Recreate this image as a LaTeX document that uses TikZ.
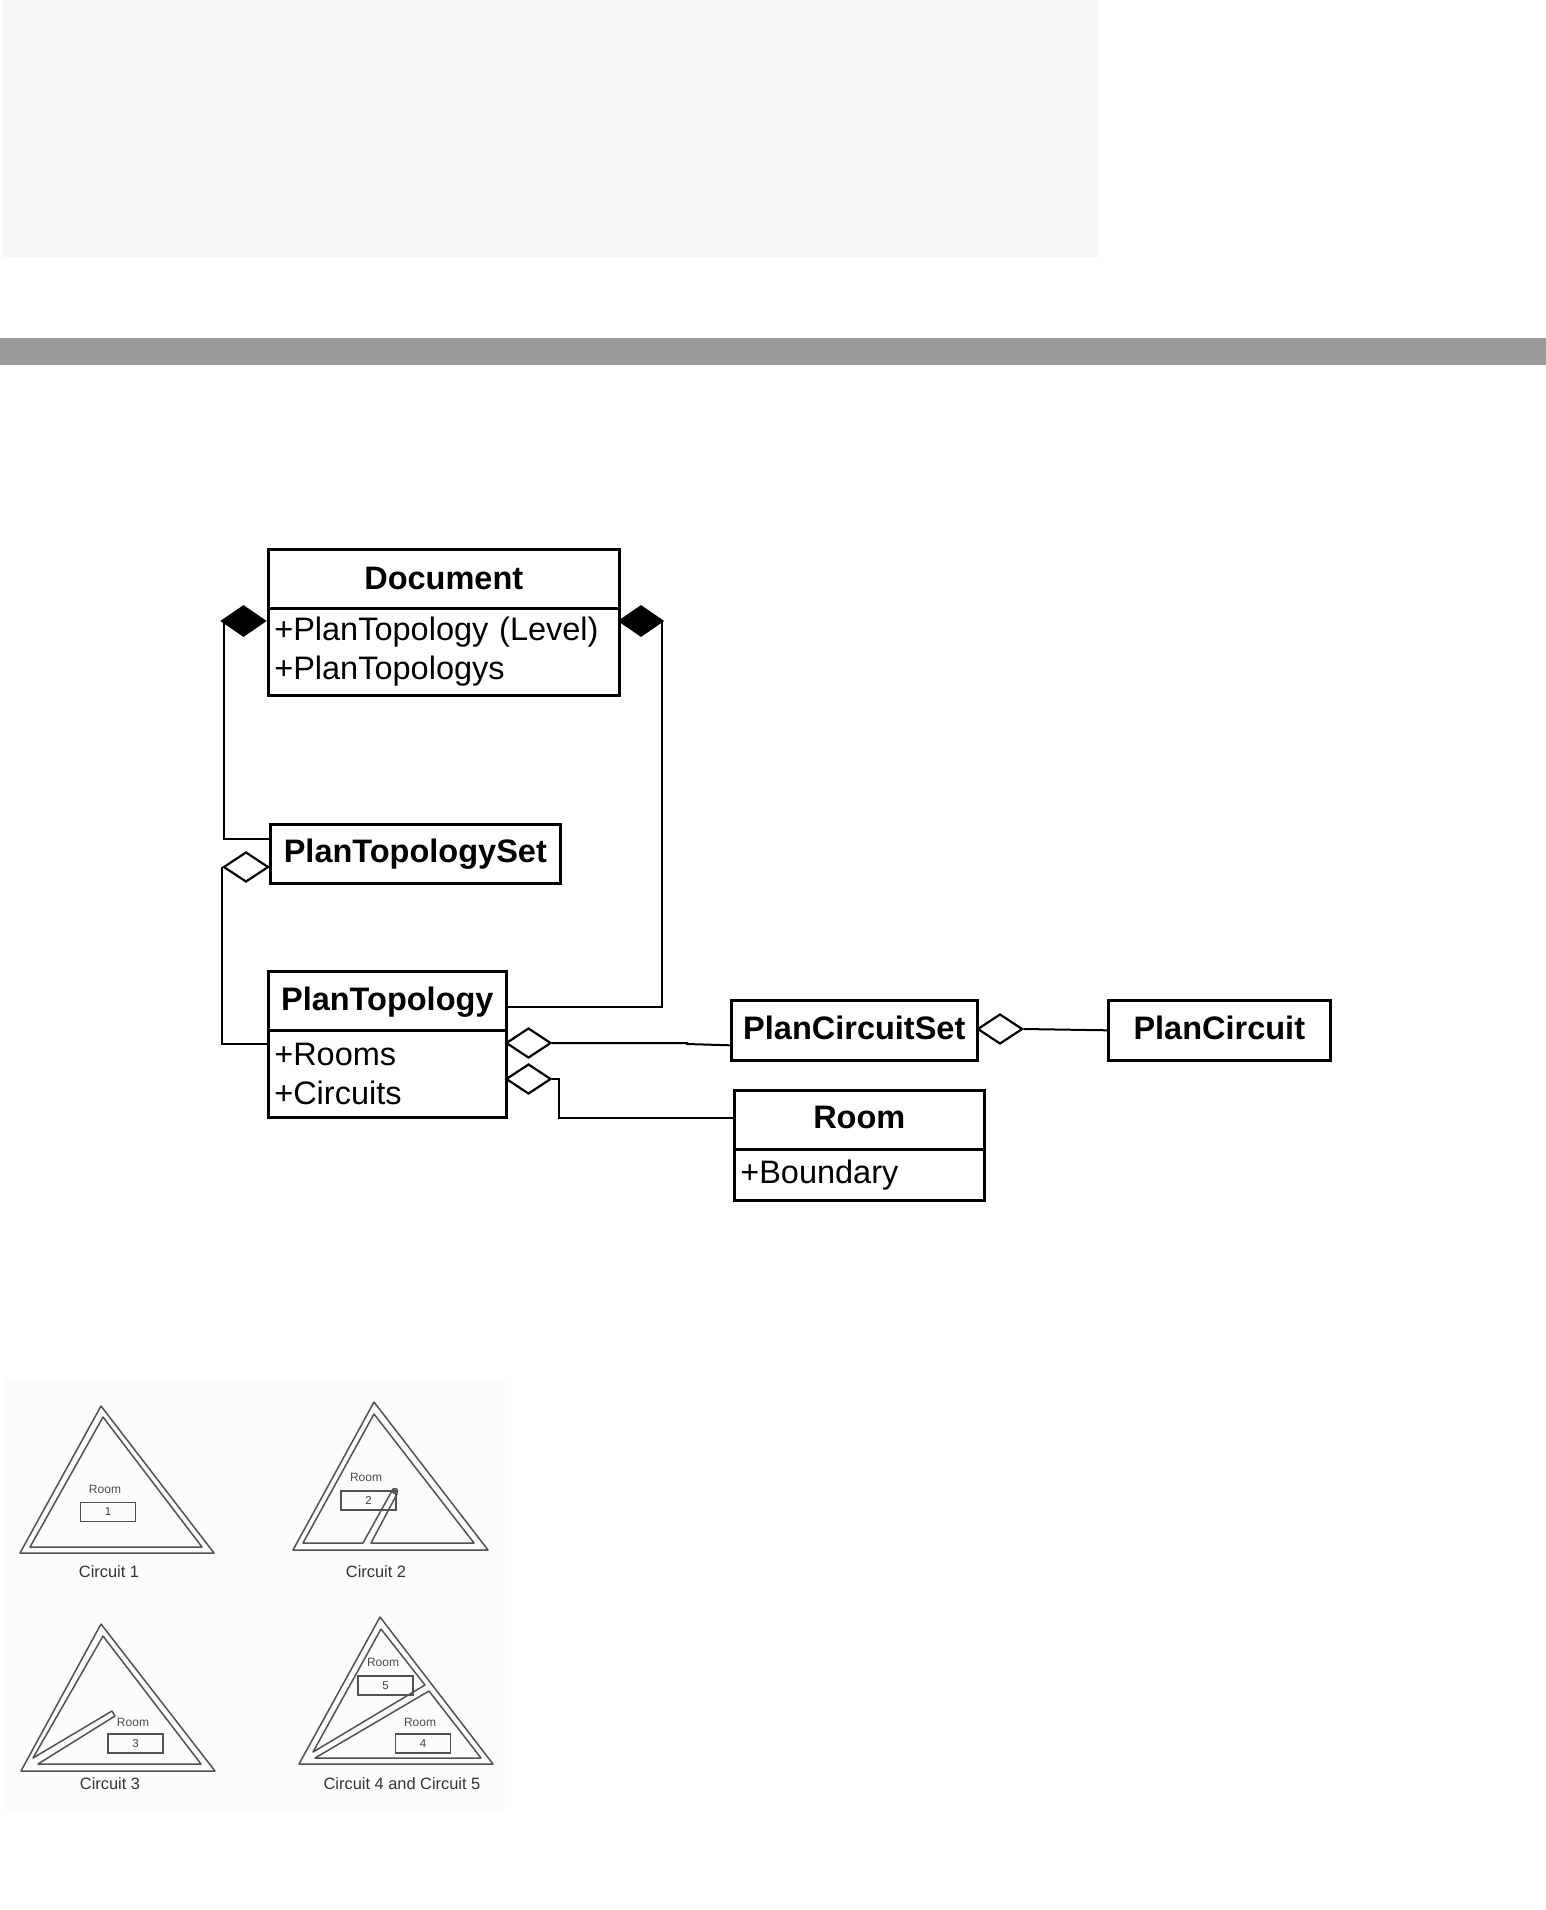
\documentclass[tikz,border=0pt]{standalone}
\usepackage{fontspec}
\setmainfont{Liberation Sans}
\usetikzlibrary{shapes.geometric,calc}
\tikzset{
  x=1pt,y=-1pt,
  headbox/.style={draw=black,line width=2.6pt,anchor=north west,inner sep=0pt,align=center,
    font=\fontsize{32.5}{39}\selectfont\bfseries,text=black},
  bodybox/.style={draw=black,line width=2.6pt,anchor=north west,inner ysep=0pt,inner xsep=6pt,align=left,
    font=\fontsize{32.5}{39}\selectfont,text=black},
  link/.style={draw=black,line width=2pt},
  blackdia/.style={diamond,draw=black,fill=black,line width=1pt,inner sep=0pt,minimum width=45pt,minimum height=31pt},
  opendia/.style={diamond,draw=black,fill=white,line width=2.2pt,inner sep=0pt,minimum width=45pt,minimum height=30pt},
  wall/.style={draw=black!68,line width=1.5pt,line join=round},
  roomtag/.style={draw=black!68,line width=1.5pt,minimum width=55pt,minimum height=19pt,inner sep=0pt,
    font=\fontsize{11.5}{13}\selectfont,text=black!75},
  roomlab/.style={font=\fontsize{12}{14}\selectfont,text=black!70,inner sep=0pt},
  caption/.style={font=\fontsize{16.4}{19}\selectfont,text=black!80,inner sep=0pt}
}
\begin{document}
\begin{tikzpicture}
\useasboundingbox (0,0) rectangle (1546,1910);
\fill[white] (0,0) rectangle (1546,1910);
\fill[black!3] (2,0) rectangle (1098,257);
\fill[black!40] (0,338) rectangle (1546,365);
\fill[black!1] (5,1378) rectangle (505,1810);

% classes
\node[headbox,minimum width=351pt,minimum height=59pt,text height=40pt,text depth=19pt] (dochead) at (267,548) {Document};
\node[bodybox,text width=339pt,minimum height=87pt] (docbody) at (267,607) {+PlanTopology (Level)\\+PlanTopologys};
\node[headbox,minimum width=290pt,minimum height=59pt,text height=38pt,text depth=21pt] (setnode) at (269,823) {PlanTopologySet};
\node[headbox,minimum width=238pt,minimum height=59pt,text height=39pt,text depth=20pt] (pthead) at (267,970) {PlanTopology};
\node[bodybox,text width=226pt,minimum height=87pt] (ptbody) at (267,1029) {+Rooms\\+Circuits};
\node[headbox,minimum width=246pt,minimum height=60pt,text height=39pt,text depth=21pt] (pcs) at (730,999) {PlanCircuitSet};
\node[headbox,minimum width=222pt,minimum height=60pt,text height=39pt,text depth=21pt] (pc) at (1107,999) {PlanCircuit};
\node[headbox,minimum width=250pt,minimum height=59pt,text height=38pt,text depth=21pt] (roomhead) at (733,1089) {Room};
\node[bodybox,text width=238pt,minimum height=51pt] (roombody) at (733,1148) {+Boundary};

% connector ends
\node[blackdia] (bdl) at (243.5,621) {};
\node[blackdia] (bdr) at (641,621) {};
\node[opendia] (odset) at (246,867) {};
\node[opendia] (odrooms) at (528.5,1043) {};
\node[opendia] (odcirc) at (528.5,1079) {};
\node[opendia] (odpc) at (1000,1029) {};

% connectors
\draw[link] ([xshift=3pt]bdl.west) |- ([yshift=14.5pt]setnode.west);
\draw[link] ([xshift=-2pt]bdr.east) |- ([yshift=-6.5pt]pthead.east);
\draw[link] (odset.west) |- ([yshift=29.5pt]ptbody.west);
\draw[link] (odrooms.east) -- ++(135,0) -- ++(0,1) -- ([yshift=-15pt]pcs.west);
\draw[link] (odcirc.east) -- ++(7,0) |- ([yshift=1.5pt]roomhead.west);
\draw[link] (odpc.east) -- (pc.west);

% circuit 1
\draw[wall] (101,1406) -- (20,1553) -- (214,1553) -- cycle;
\draw[wall] (103,1417) -- (30,1547) -- (202,1547) -- cycle;
\node[roomlab] (r1l) at (105,1489) {Room};
\node[roomtag] (r1) at (108,1512) {1};
\node[caption] (c1) at (109,1572) {Circuit 1};

% circuit 2
\node[roomtag] (r2) at (368.5,1500.5) {2};
\draw[wall] (374,1402) -- (293,1550) -- (488,1550) -- cycle;
\draw[wall] (374,1414) -- (303,1543) -- (363,1543) -- (393,1489) -- (397,1494) -- (371,1543) -- (474,1543) -- cycle;
\draw[wall] (395,1491) circle (2.5);
\node[roomlab] (r2l) at (366,1477) {Room};
\node[caption] (c2) at (376,1572) {Circuit 2};

% circuit 3
\draw[wall] (101,1624) -- (21,1771) -- (215,1771) -- cycle;
\draw[wall] (103,1636) -- (33,1758) -- (112,1711) -- (115,1716) -- (38,1764) -- (201,1764) -- cycle;
\node[roomlab] (r3l) at (133,1722) {Room};
\node[roomtag] (r3) at (135.5,1743.5) {3};
\node[caption] (c3) at (110,1784) {Circuit 3};

% circuit 4 and 5
\draw[wall] (380,1617) -- (299,1764) -- (493,1764) -- cycle;
\node[roomtag] (r5) at (385.5,1685.5) {5};
\draw[wall] (381,1629) -- (313,1752) -- (425,1685) -- cycle;
\draw[wall] (429,1691) -- (315,1758) -- (481,1758) -- cycle;
\node[roomlab] (r5l) at (383,1662) {Room};
\node[roomlab] (r4l) at (420,1722) {Room};
\node[roomtag] (r4) at (423,1743.5) {4};
\node[caption] (c4) at (402,1784) {Circuit 4 and Circuit 5};
\end{tikzpicture}
\end{document}
